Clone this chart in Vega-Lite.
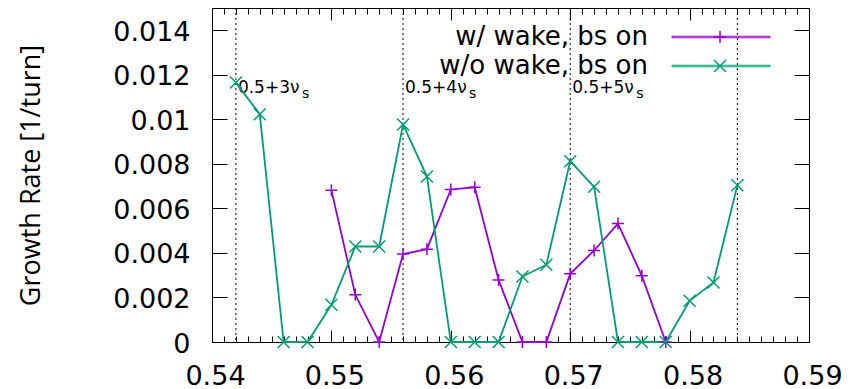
{
  "$schema": "https://vega.github.io/schema/vega-lite/v6.json",
  "width": 597,
  "height": 334,
  "autosize": {"type": "none"},
  "padding": {"left": 212, "top": 8, "right": 45, "bottom": 47},
  "background": "white",
  "config": {
    "view": {"stroke": "black", "strokeWidth": 1},
    "axis": {"grid": false, "domain": false, "tickColor": "black", "labelColor": "black", "titleColor": "black", "tickWidth": 1}
  },
  "datasets": {
    "rates": [
      {"series": "w/ wake, bs on", "x": 0.550, "y": 0.00682},
      {"series": "w/ wake, bs on", "x": 0.552, "y": 0.00212},
      {"series": "w/ wake, bs on", "x": 0.554, "y": 0},
      {"series": "w/ wake, bs on", "x": 0.556, "y": 0.00395},
      {"series": "w/ wake, bs on", "x": 0.558, "y": 0.00417},
      {"series": "w/ wake, bs on", "x": 0.560, "y": 0.00685},
      {"series": "w/ wake, bs on", "x": 0.562, "y": 0.00695},
      {"series": "w/ wake, bs on", "x": 0.564, "y": 0.00279},
      {"series": "w/ wake, bs on", "x": 0.566, "y": 0},
      {"series": "w/ wake, bs on", "x": 0.568, "y": 0},
      {"series": "w/ wake, bs on", "x": 0.570, "y": 0.00306},
      {"series": "w/ wake, bs on", "x": 0.572, "y": 0.00411},
      {"series": "w/ wake, bs on", "x": 0.574, "y": 0.00532},
      {"series": "w/ wake, bs on", "x": 0.576, "y": 0.00297},
      {"series": "w/ wake, bs on", "x": 0.578, "y": 0},
      {"series": "w/o wake, bs on", "x": 0.542, "y": 0.01165},
      {"series": "w/o wake, bs on", "x": 0.544, "y": 0.01023},
      {"series": "w/o wake, bs on", "x": 0.546, "y": 0},
      {"series": "w/o wake, bs on", "x": 0.548, "y": 0},
      {"series": "w/o wake, bs on", "x": 0.550, "y": 0.00167},
      {"series": "w/o wake, bs on", "x": 0.552, "y": 0.00429},
      {"series": "w/o wake, bs on", "x": 0.554, "y": 0.00429},
      {"series": "w/o wake, bs on", "x": 0.556, "y": 0.00977},
      {"series": "w/o wake, bs on", "x": 0.558, "y": 0.00743},
      {"series": "w/o wake, bs on", "x": 0.560, "y": 0},
      {"series": "w/o wake, bs on", "x": 0.562, "y": 0},
      {"series": "w/o wake, bs on", "x": 0.564, "y": 0},
      {"series": "w/o wake, bs on", "x": 0.566, "y": 0.00294},
      {"series": "w/o wake, bs on", "x": 0.568, "y": 0.00347},
      {"series": "w/o wake, bs on", "x": 0.570, "y": 0.00812},
      {"series": "w/o wake, bs on", "x": 0.572, "y": 0.00697},
      {"series": "w/o wake, bs on", "x": 0.574, "y": 0},
      {"series": "w/o wake, bs on", "x": 0.576, "y": 0},
      {"series": "w/o wake, bs on", "x": 0.578, "y": 0},
      {"series": "w/o wake, bs on", "x": 0.580, "y": 0.00185},
      {"series": "w/o wake, bs on", "x": 0.582, "y": 0.00267},
      {"series": "w/o wake, bs on", "x": 0.584, "y": 0.00704}
    ],
    "resonances": [
      {"x": 0.542, "label": "0.5+3ν", "sub": "s"},
      {"x": 0.556, "label": "0.5+4ν", "sub": "s"},
      {"x": 0.570, "label": "0.5+5ν", "sub": "s"},
      {"x": 0.584, "label": "", "sub": ""}
    ]
  },
  "resolve": {
    "scale": {"x": "shared", "y": "shared"},
    "axis": {"x": "independent", "y": "independent"}
  },
  "layer": [
    {
      "data": {"name": "resonances"},
      "mark": {"type": "rule", "color": "black", "strokeWidth": 1, "strokeDash": [2, 3]},
      "encoding": {
        "x": {
          "field": "x", "type": "quantitative",
          "scale": {"domain": [0.54, 0.59], "nice": false, "zero": false},
          "axis": {
            "orient": "bottom", "title": null, "ticks": false, "domain": false,
            "values": [0.54, 0.55, 0.56, 0.57, 0.58, 0.59], "format": ".2f",
            "labelFont": "DejaVu Sans", "labelFontSize": 27, "labelPadding": 21,
            "labelOffset": 3, "labelFlush": false, "labelOverlap": false
          }
        }
      }
    },
    {
      "data": {"name": "resonances"},
      "mark": {"type": "text", "align": "left", "baseline": "alphabetic", "dx": 2, "font": "DejaVu Sans", "fontSize": 17, "color": "black"},
      "encoding": {
        "x": {
          "field": "x", "type": "quantitative",
          "axis": {
            "orient": "top", "offset": -334, "title": null, "labels": false, "domain": false,
            "values": [0.540,0.541,0.542,0.543,0.544,0.545,0.546,0.547,0.548,0.549,0.550,0.551,0.552,0.553,0.554,0.555,0.556,0.557,0.558,0.559,0.560,0.561,0.562,0.563,0.564,0.565,0.566,0.567,0.568,0.569,0.570,0.571,0.572,0.573,0.574,0.575,0.576,0.577,0.578,0.579,0.580,0.581,0.582,0.583,0.584,0.585,0.586,0.587,0.588,0.589,0.590],
            "tickSize": {"condition": {"test": "abs(datum.value*100 - round(datum.value*100)) < 0.01", "value": 12}, "value": 6}
          }
        },
        "y": {
          "datum": 0.01117, "type": "quantitative",
          "scale": {"domain": [0, 0.015], "nice": false, "zero": false},
          "axis": {
            "orient": "left", "ticks": false, "domain": false,
            "values": [0, 0.002, 0.004, 0.006, 0.008, 0.01, 0.012, 0.014], "format": "~g",
            "labelFont": "DejaVu Sans", "labelFontSize": 27, "labelPadding": 22, "labelOffset": 2,
            "labelFlush": false, "labelOverlap": false,
            "title": "Growth Rate [1/turn]", "titleFont": "Open Sans", "titleFontSize": 27,
            "titleFontWeight": "normal", "titleX": -173, "titleY": 167, "titleAngle": -90,
            "titleAlign": "center", "titleBaseline": "alphabetic"
          }
        },
        "text": {"field": "label"}
      }
    },
    {
      "data": {"name": "resonances"},
      "mark": {"type": "text", "align": "left", "baseline": "alphabetic", "dx": 66, "dy": 5, "font": "DejaVu Sans", "fontSize": 14, "color": "black"},
      "encoding": {
        "x": {"field": "x", "type": "quantitative", "axis": null},
        "y": {"datum": 0.01117, "type": "quantitative", "axis": null},
        "text": {"field": "sub"}
      }
    },
    {
      "data": {"name": "rates"},
      "mark": {"type": "line", "strokeWidth": 1.8},
      "encoding": {
        "x": {
          "field": "x", "type": "quantitative",
          "axis": {
            "orient": "bottom", "offset": -334, "title": null, "labels": false, "domain": false,
            "values": [0.540,0.541,0.542,0.543,0.544,0.545,0.546,0.547,0.548,0.549,0.550,0.551,0.552,0.553,0.554,0.555,0.556,0.557,0.558,0.559,0.560,0.561,0.562,0.563,0.564,0.565,0.566,0.567,0.568,0.569,0.570,0.571,0.572,0.573,0.574,0.575,0.576,0.577,0.578,0.579,0.580,0.581,0.582,0.583,0.584,0.585,0.586,0.587,0.588,0.589,0.590],
            "tickSize": {"condition": {"test": "abs(datum.value*100 - round(datum.value*100)) < 0.01", "value": 12}, "value": 6}
          }
        },
        "y": {
          "field": "y", "type": "quantitative",
          "axis": {
            "orient": "right", "offset": -597, "title": null, "labels": false, "domain": false,
            "values": [0, 0.002, 0.004, 0.006, 0.008, 0.01, 0.012, 0.014], "tickSize": 15
          }
        },
        "color": {
          "field": "series", "type": "nominal",
          "scale": {"domain": ["w/ wake, bs on", "w/o wake, bs on"], "range": ["#9400d3", "#009e73"]},
          "legend": {
            "orient": "none", "legendX": 496, "legendY": 16, "title": null, "padding": 0,
            "labelFont": "DejaVu Sans", "labelFontSize": 26, "labelColor": "black",
            "labelAlign": "right", "labelOffset": -86, "labelLimit": 600,
            "symbolType": "M-9.8,-0.15H9.8V0.15H-9.8Z", "symbolSize": 100, "symbolStrokeWidth": 1, "rowPadding": 3
          }
        }
      }
    },
    {
      "data": {"name": "rates"},
      "mark": {"type": "point", "filled": false, "size": 144, "strokeWidth": 1.5, "opacity": 1},
      "encoding": {
        "x": {"field": "x", "type": "quantitative", "axis": null},
        "y": {
          "field": "y", "type": "quantitative",
          "axis": {
            "orient": "left", "offset": -597, "title": null, "labels": false, "domain": false,
            "values": [0, 0.002, 0.004, 0.006, 0.008, 0.01, 0.012, 0.014], "tickSize": 15
          }
        },
        "stroke": {
          "field": "series", "type": "nominal",
          "scale": {"range": ["#9400d3", "#009e73"]},
          "legend": {
            "orient": "none", "legendX": 495, "legendY": 16, "title": null, "padding": 0,
            "labelFont": "DejaVu Sans", "labelFontSize": 26, "labelColor": "transparent",
            "labelAlign": "right", "labelOffset": -86, "labelLimit": 600,
            "symbolSize": 144, "symbolStrokeWidth": 1.5, "rowPadding": 3, "symbolFillColor": "transparent"
          }
        },
        "shape": {
          "field": "series", "type": "nominal",
          "scale": {"range": ["M-1,0H1M0,-1V1", "M-1,-1L1,1M-1,1L1,-1"]},
          "legend": {
            "orient": "none", "legendX": 495, "legendY": 16, "title": null, "padding": 0,
            "labelFont": "DejaVu Sans", "labelFontSize": 26, "labelColor": "transparent",
            "labelAlign": "right", "labelOffset": -86, "labelLimit": 600,
            "symbolSize": 144, "symbolStrokeWidth": 1.5, "rowPadding": 3, "symbolFillColor": "transparent"
          }
        }
      }
    }
  ]
}
